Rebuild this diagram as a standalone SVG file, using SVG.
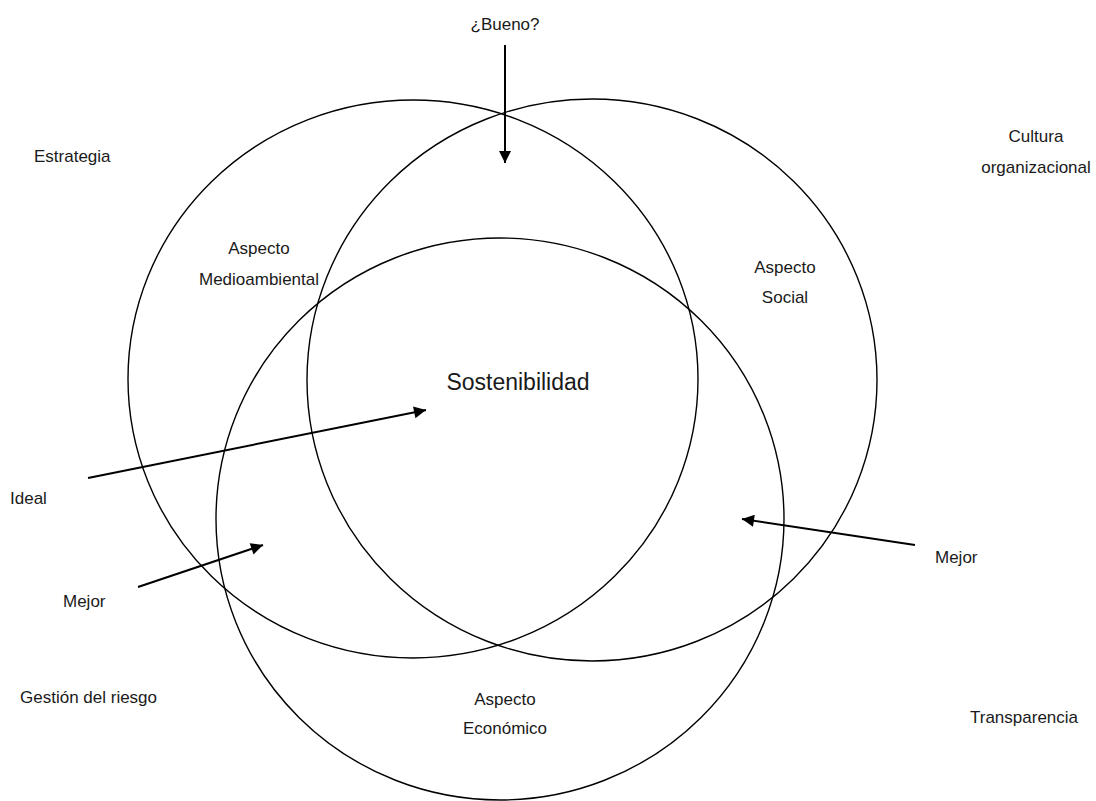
<svg xmlns="http://www.w3.org/2000/svg" width="1096" height="801" viewBox="0 0 1096 801">
<style>
.c{fill:none;stroke:#000;stroke-width:1.4}
.a{fill:none;stroke:#000;stroke-width:2}
text{font-family:"Liberation Sans",Arial,sans-serif;font-size:17px;fill:#1a1a1a}
.m{text-anchor:middle}
</style>
<defs>
<marker id="ah" viewBox="0 0 10 10" refX="10" refY="5" markerWidth="7" markerHeight="6" markerUnits="strokeWidth" orient="auto">
<path d="M0,0 L10,5 L0,10 z" fill="#000"/>
</marker>
</defs>
<rect width="1096" height="801" fill="#fff"/>
<g id="circle-medioambiental"><ellipse class="c" cx="413" cy="379" rx="285" ry="279"/></g>
<g id="circle-social"><ellipse class="c" cx="592" cy="380" rx="285" ry="281"/></g>
<g id="circle-economico"><ellipse class="c" cx="500" cy="519" rx="284" ry="281"/></g>
<g id="connectors">
<line class="a" x1="505" y1="45" x2="505" y2="163" marker-end="url(#ah)"/>
<line class="a" x1="88" y1="478" x2="426" y2="410" marker-end="url(#ah)"/>
<line class="a" x1="138" y1="587" x2="263" y2="545" marker-end="url(#ah)"/>
<line class="a" x1="915" y1="545" x2="742" y2="519" marker-end="url(#ah)"/>
</g>
<g id="labels">
<text class="m" x="505" y="30">¿Bueno?</text>
<text x="34" y="162">Estrategia</text>
<text class="m" x="1036" y="142">Cultura</text>
<text class="m" x="1036" y="173">organizacional</text>
<text class="m" x="259" y="254">Aspecto</text>
<text class="m" x="259" y="285">Medioambiental</text>
<text class="m" x="785" y="273">Aspecto</text>
<text class="m" x="785" y="303">Social</text>
<text class="m" x="518" y="390" style="font-size:23px">Sostenibilidad</text>
<text x="10" y="504">Ideal</text>
<text x="63" y="607">Mejor</text>
<text x="935" y="563">Mejor</text>
<text x="20" y="703">Gestión del riesgo</text>
<text class="m" x="505" y="705">Aspecto</text>
<text class="m" x="505" y="734">Económico</text>
<text x="970" y="723">Transparencia</text>
</g>
</svg>
